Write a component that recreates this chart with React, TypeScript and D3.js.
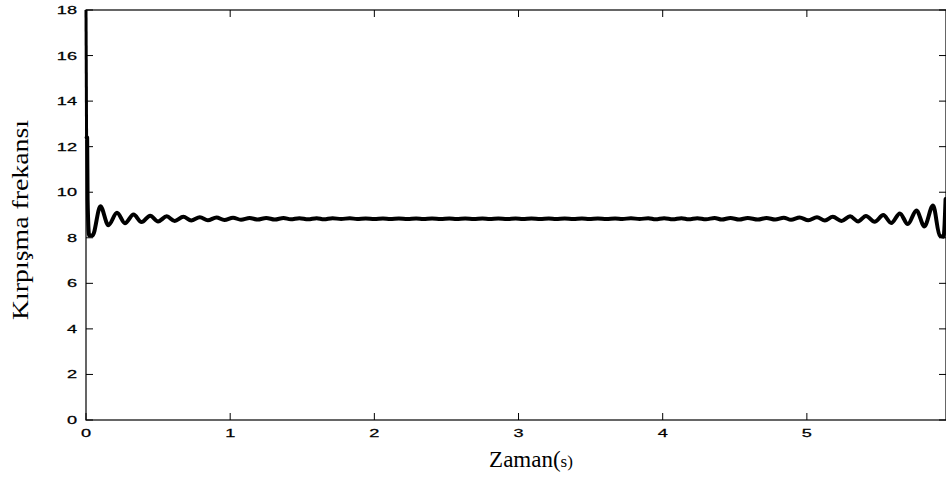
import React from "react";
import * as d3 from "d3";

// Kırpışma frekansı vs. zaman
const startTransient: [number, number][] = [
  [0.0, 18.0], [0.004, 12.4], [0.008, 12.4], [0.011, 9.7], [0.022, 8.1], [0.045, 8.1],
  [0.1, 9.38], [0.155, 8.55], [0.215, 9.1], [0.27, 8.64], [0.33, 9.02], [0.385, 8.69],
  [0.445, 8.97], [0.5, 8.72], [0.56, 8.94], [0.615, 8.74], [0.675, 8.92], [0.73, 8.76],
  [0.79, 8.9], [0.845, 8.77], [0.905, 8.89], [0.96, 8.78], [1.02, 8.88], [1.075, 8.79],
  [1.135, 8.87], [1.19, 8.8],
];

const steadyState: [number, number][] = [
  [1.25, 8.87], [1.31, 8.8], [1.37, 8.87], [1.42, 8.81], [1.48, 8.86], [1.54, 8.81],
  [1.6, 8.86], [1.65, 8.81], [1.71, 8.86], [1.77, 8.82], [1.83, 8.86], [1.88, 8.82],
  [1.94, 8.85], [2.0, 8.82], [2.06, 8.85], [2.11, 8.82], [2.17, 8.85], [2.23, 8.82],
  [2.29, 8.85], [2.34, 8.82], [2.4, 8.85], [2.46, 8.82], [2.52, 8.85], [2.57, 8.82],
  [2.63, 8.85], [2.69, 8.82], [2.75, 8.85], [2.8, 8.82], [2.86, 8.85], [2.92, 8.82],
  [2.98, 8.85], [3.03, 8.82], [3.09, 8.85], [3.15, 8.82], [3.21, 8.85], [3.26, 8.82],
  [3.32, 8.85], [3.38, 8.82], [3.44, 8.85], [3.49, 8.82], [3.55, 8.85], [3.61, 8.82],
  [3.67, 8.85], [3.72, 8.82], [3.78, 8.86], [3.84, 8.82], [3.9, 8.86], [3.95, 8.81],
  [4.01, 8.86], [4.07, 8.81], [4.13, 8.86], [4.18, 8.81], [4.24, 8.86], [4.3, 8.81],
  [4.36, 8.87], [4.41, 8.8], [4.47, 8.87], [4.53, 8.8], [4.59, 8.87],
];

const endTransient: [number, number][] = [
  [4.66, 8.8], [4.72, 8.87], [4.78, 8.8], [4.84, 8.88], [4.89, 8.79], [4.95, 8.89],
  [5.01, 8.77], [5.07, 8.9], [5.125, 8.76], [5.18, 8.92], [5.24, 8.74], [5.3, 8.94],
  [5.355, 8.72], [5.41, 8.96], [5.47, 8.7], [5.53, 9.0], [5.585, 8.65], [5.645, 9.07],
  [5.7, 8.6], [5.76, 9.2], [5.815, 8.5], [5.875, 9.42], [5.922, 8.08], [5.948, 8.05],
  [5.962, 9.7],
];

const xTicks = [0, 1, 2, 3, 4, 5];
const yTicks = [0, 2, 4, 6, 8, 10, 12, 14, 16, 18];
const xLabel = "Zaman(";
const xLabelUnit = "s)";
const yLabel = "Kırpışma frekansı";

const W = 946;
const H = 477;
const left = 86;
const right = 946;
const top = 10;
const bottom = 420;

export default function App() {
  const data = [...startTransient, ...steadyState, ...endTransient];
  const spike = data.slice(0, 2);
  const rest = data.slice(1);
  const x = d3.scaleLinear().domain([0, 5.965]).range([left, right]);
  const y = d3.scaleLinear().domain([0, 18]).range([bottom, top]);
  const line = d3
    .line<[number, number]>()
    .x((d) => x(d[0]))
    .y((d) => y(d[1]))
    .curve(d3.curveMonotoneX);

  const tickFont = "'Liberation Sans', Arial, Helvetica, sans-serif";
  const serif = "'Liberation Serif', 'Times New Roman', serif";
  const tl = 7;

  return (
    <svg
      width={W}
      height={H}
      style={{ position: "absolute", left: 0, top: 0, background: "#fff" }}
    >
      <rect x={0} y={0} width={W} height={H} fill="#fff" />
      {/* frame */}
      <rect
        x={left}
        y={top}
        width={right - left}
        height={bottom - top}
        fill="none"
        stroke="#000"
        strokeWidth={1.2}
      />
      {/* x ticks */}
      {xTicks.map((t) => (
        <g key={"x" + t}>
          <line x1={x(t)} x2={x(t)} y1={bottom} y2={bottom - tl} stroke="#000" strokeWidth={1} />
          <line x1={x(t)} x2={x(t)} y1={top} y2={top + tl} stroke="#000" strokeWidth={1} />
          <g transform={`translate(${x(t)},436.5) scale(1.65,1)`}>
            <text textAnchor="middle" fontFamily={tickFont} fontSize={11} fill="#000" stroke="#000" strokeWidth={0.25}>
              {t}
            </text>
          </g>
        </g>
      ))}
      {/* y ticks */}
      {yTicks.map((t) => (
        <g key={"y" + t}>
          <line x1={left} x2={left + tl} y1={y(t)} y2={y(t)} stroke="#000" strokeWidth={1} />
          <line x1={right} x2={right - tl} y1={y(t)} y2={y(t)} stroke="#000" strokeWidth={1} />
          <g transform={`translate(77,${y(t) + 4}) scale(1.65,1)`}>
            <text textAnchor="end" fontFamily={tickFont} fontSize={11} fill="#000" stroke="#000" strokeWidth={0.25}>
              {t}
            </text>
          </g>
        </g>
      ))}
      {/* data line */}
      <path d={line(spike) ?? ""} fill="none" stroke="#000" strokeWidth={3} />
      <path
        d={line(rest) ?? ""}
        fill="none"
        stroke="#000"
        strokeWidth={4}
        strokeLinejoin="round"
        strokeLinecap="round"
      />
      {/* axis labels */}
      <text x={531} y={467} textAnchor="middle" fontFamily={serif} fontSize={23} fill="#000">
        {xLabel}
        <tspan fontSize={17}>{xLabelUnit}</tspan>
      </text>
      <text
        transform={`translate(28,220) rotate(-90)`}
        textAnchor="middle"
        fontFamily={serif}
        fontSize={24}
        textLength={200}
        lengthAdjust="spacingAndGlyphs"
        fill="#000"
      >
        {yLabel}
      </text>
    </svg>
  );
}
